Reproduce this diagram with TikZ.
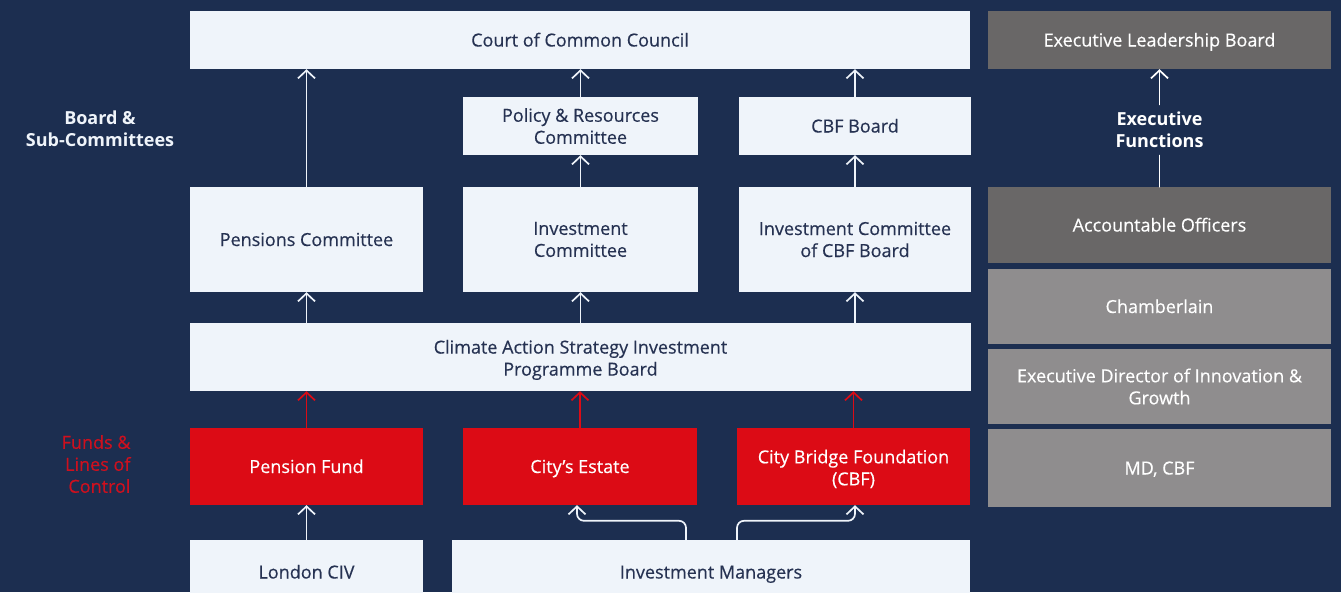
\documentclass[tikz,border=0pt]{standalone}
\usepackage{fontspec}
\setmainfont{Open Sans}[UprightFeatures={FakeBold=0.4}]
\usetikzlibrary{arrows.meta}
\definecolor{navy}{RGB}{28,46,80}
\definecolor{paper}{RGB}{239,244,250}
\definecolor{ink}{RGB}{38,50,82}
\definecolor{fundred}{RGB}{220,11,21}
\definecolor{labelred}{RGB}{206,16,30}
\definecolor{darkgrey}{RGB}{105,103,103}
\definecolor{midgrey}{RGB}{143,141,142}
\begin{document}
\begin{tikzpicture}[x=1pt, y=-1pt, font=\fontsize{18}{22}\selectfont,
		line join=round, line cap=round,
		>={Straight Barb[length=8pt,width=17pt]},
		box/.style={fill=paper, text=ink, align=center, inner sep=0pt},
		fund/.style={fill=fundred, text=white, align=center, inner sep=0pt},
		officer/.style={fill=midgrey, text=white, align=center, inner sep=0pt,
			minimum width=343pt},
		single/.style={text height=15pt, text depth=2pt},
		up/.style={->, draw=paper, line width=1.7pt},
		redup/.style={->, draw=fundred, line width=1.7pt},
		side/.style={align=center, font=\fontsize{18}{22}\selectfont\bfseries}]
	\def \colA{306.5}
	\def \colB{580.5}
	\def \colC{855}
	\def \colR{1159.5}
	\fill[navy] (0,0) rectangle (1341,592);
	\clip (0,0) rectangle (1341,592);
	% committees
	\node[box, single, minimum width=780pt, minimum height=58pt] (court) at (580,40) {Court of Common Council};
	\node[box, minimum width=235pt, minimum height=58pt] (policy) at (\colB,126) {Policy \& Resources\\Committee};
	\node[box, single, minimum width=232pt, minimum height=58pt] (cbfboard) at (\colC,126) {CBF Board};
	\node[box, single, minimum width=233pt, minimum height=105pt] (pensions) at (\colA,239.5) {Pensions Committee};
	\node[box, minimum width=235pt, minimum height=105pt] (invcom) at (\colB,239.5) {Investment\\Committee};
	\node[box, minimum width=232pt, minimum height=105pt] (invcbf) at (\colC,239.5) {Investment Committee\\of CBF Board};
	\node[box, text height=41.5pt, minimum width=781pt, minimum height=68pt] (climate) at (580.5,357) {Climate Action Strategy Investment\\Programme Board};
	% funds
	\node[fund, single, minimum width=233pt, minimum height=77pt] (pfund) at (\colA,466.5) {Pension Fund};
	\node[fund, single, minimum width=234pt, minimum height=77pt] (estate) at (580,466.5) {City’s Estate};
	\node[fund, text height=40.5pt, minimum width=233pt, minimum height=77pt] (cbf) at (853.5,466.5) {City Bridge Foundation\\(CBF)};
	\node[box, single, minimum width=233pt, minimum height=64pt] (civ) at (\colA,572) {London CIV};
	\node[box, single, minimum width=518pt, minimum height=64pt] (managers) at (711,572) {Investment Managers};
	% executive side
	\node[officer, single, fill=darkgrey, minimum height=58pt] (elb) at (\colR,40) {Executive Leadership Board};
	\node[officer, single, fill=darkgrey, minimum height=76pt] (accoff) at (\colR,225) {Accountable Officers};
	\node[officer, single, minimum height=75pt] (chamb) at (\colR,306.5) {Chamberlain};
	\node[officer, minimum height=75pt] (execdir) at (\colR,386.5) {Executive Director of Innovation \&\\Growth};
	\node[officer, single, minimum height=78pt] (mdcbf) at (\colR,468) {MD, CBF};
	% row labels
	\node[side, text=paper] (boards) at (100,129) {Board \&\\Sub-Committees};
	\node[side, text=white] (execfn) at (\colR,130) {Executive\\Functions};
	\node[align=right, text=labelred, anchor=east] (funds) at (134,464) {Funds \&\\Lines of\\Control};
	% reporting lines
	\draw[up] (pensions.north) -- (pensions.north |- court.south);
	\draw[up] (policy.north) -- (policy.north |- court.south);
	\draw[up] (cbfboard.north) -- (cbfboard.north |- court.south);
	\draw[up] (invcom.north) -- (policy.south);
	\draw[up] (invcbf.north) -- (cbfboard.south);
	\draw[up] (climate.north -| pensions.south) -- (pensions.south);
	\draw[up] (climate.north -| invcom.south) -- (invcom.south);
	\draw[up] (climate.north -| invcbf.south) -- (invcbf.south);
	\draw[redup] (pfund.north) -- (pfund.north |- climate.south);
	\draw[redup] (estate.north) -- (estate.north |- climate.south);
	\draw[redup] (cbf.north) -- (cbf.north |- climate.south);
	\draw[up] (civ.north) -- (pfund.south);
	\draw[up, rounded corners=7pt] ([xshift=-25pt]managers.north) -- ++(0,-19) -| ([xshift=-3pt]estate.south);
	\draw[up, rounded corners=7pt] ([xshift=26pt]managers.north) -- ++(0,-19) -| ([xshift=1.5pt]cbf.south);
	\draw[draw=white, line width=1.7pt] (accoff.north) -- ([yshift=-4pt]execfn.south);
	\draw[->, draw=white, line width=1.7pt] ([yshift=4pt]execfn.north) -- (elb.south);
\end{tikzpicture}
\end{document}
